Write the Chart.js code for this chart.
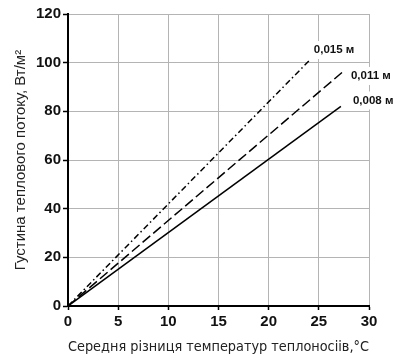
<!DOCTYPE html>
<html lang="uk">
<head>
<meta charset="UTF-8">
<title>Густина теплового потоку</title>
<script src="https://cdn.jsdelivr.net/npm/chart.js"></script>
<style>
  html, body { margin: 0; padding: 0; background: #fff; }
  #wrap { width: 403px; height: 357px; }
</style>
</head>
<body>
<div id="wrap"><canvas id="myChart" width="403" height="357"></canvas></div>
<script>
// середня різниця температур, °C та густина теплового потоку, Вт/м2
const seriesNames = ['0,008 м', '0,011 м', '0,015 м'];
const dt008 = [0, 27.2];
const q008 = [0, 82];
const dt011 = [0, 27.6];
const q011 = [0, 97];
const dt015 = [0, 24.2];
const q015 = [0, 101.5];
const xTicks = [0, 5, 10, 15, 20, 25, 30];
const yTicks = [0, 20, 40, 60, 80, 100, 120];

function pts(xs, ys) {
    return xs.map((x, i) => ({ x: x, y: ys[i] }));
}

// підписи товщини біля кінця кожної лінії, на білому тлі
const endLabels = {
    id: 'endLabels',
    afterDatasetsDraw(chart) {
        const ctx = chart.ctx;
        const shift = [[12, -6], [6, 6], [3, -9]];
        ctx.save();
        ctx.font = 'bold 11.5px "Liberation Sans", Arial, sans-serif';
        ctx.textBaseline = 'middle';
        ctx.textAlign = 'left';
        chart.data.datasets.forEach((ds, i) => {
            const meta = chart.getDatasetMeta(i);
            const p = meta.data[meta.data.length - 1];
            const x = p.x + shift[i][0];
            const y = p.y + shift[i][1];
            const w = ctx.measureText(ds.label).width;
            ctx.fillStyle = '#fff';
            ctx.fillRect(x - 3, y - 9, w + 6, 18);
            ctx.fillStyle = '#111';
            ctx.fillText(ds.label, x, y);
        });
        ctx.restore();
    }
};

const tickFont = { family: '"Liberation Sans", Arial, sans-serif', size: 15, weight: 'bold' };

const data = {
    datasets: [{
        label: seriesNames[0],
        data: pts(dt008, q008),
        borderColor: '#000',
        borderWidth: 1.5
    }, {
        label: seriesNames[1],
        data: pts(dt011, q011),
        borderColor: '#000',
        borderWidth: 1.5,
        borderDash: [10, 4]
    }, {
        label: seriesNames[2],
        data: pts(dt015, q015),
        borderColor: '#000',
        borderWidth: 1.5,
        borderDash: [6, 3, 1.5, 3]
    }]
};

const config = {
    type: 'scatter',
    data: data,
    options: {
        responsive: false,
        animation: false,
        showLine: true,
        elements: { point: { radius: 0, hoverRadius: 0 } },
        layout: { padding: { left: 0, right: 34, top: 14, bottom: 0 } },
        plugins: {
            legend: { display: false },
            tooltip: { enabled: false }
        },
        scales: {
            x: {
                type: 'linear',
                min: 0,
                max: 30,
                afterFit: s => { s.height = 51; },
                afterBuildTicks: s => { s.ticks = xTicks.map(v => ({ value: v })); },
                grid: { color: '#b4b4b4', lineWidth: 1, tickLength: 4, tickColor: '#000', tickWidth: 1.5 },
                border: { color: '#000', width: 2 },
                ticks: { color: '#111', font: tickFont, padding: 3, maxRotation: 0 },
                title: {
                    display: true,
                    text: 'Середня різниця температур теплоносіів,°C',
                    color: '#222',
                    font: { family: '"DejaVu Sans", sans-serif', size: 13.4 },
                    padding: { top: 0, bottom: 1 }
                }
            },
            y: {
                type: 'linear',
                min: 0,
                max: 120,
                afterFit: s => { s.width = 68; },
                afterBuildTicks: s => { s.ticks = yTicks.map(v => ({ value: v })); },
                grid: { color: '#b4b4b4', lineWidth: 1, tickLength: 5, tickColor: '#000', tickWidth: 1.5 },
                border: { color: '#000', width: 2 },
                ticks: { color: '#111', font: tickFont, padding: 2 },
                title: {
                    display: true,
                    text: 'Густина теплового потоку, Вт/м²',
                    color: '#222',
                    font: { family: '"Liberation Sans", Arial, sans-serif', size: 15 },
                    padding: { top: 12, bottom: 0 }
                }
            }
        }
    },
    plugins: [endLabels]
};

const myChart = new Chart(document.getElementById('myChart'), config);
</script>
</body>
</html>
